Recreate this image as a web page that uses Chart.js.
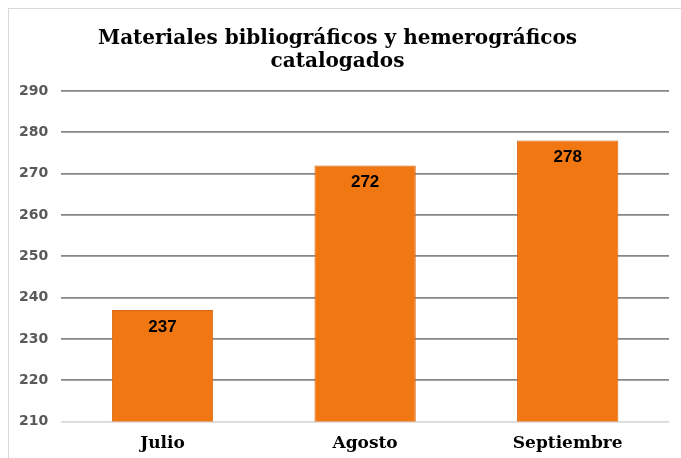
<!DOCTYPE html>
<html>
<head>
<meta charset="utf-8">
<script src="https://cdn.jsdelivr.net/npm/chart.js@4"></script>
<style>
  body { margin: 0; background: #fff; }
  #wrap { position: relative; width: 681px; height: 458px; }
</style>
</head>
<body>
<div id="wrap"><canvas id="barchart" width="681" height="458"></canvas></div>
<script>
const months = ["Julio", "Agosto", "Septiembre"];
const catalogados = [237, 272, 278];
const yTicks = [210, 220, 230, 240, 250, 260, 270, 280, 290];
const titleLines = ["Materiales bibliográficos y hemerográficos", "catalogados"];

const ctx = document.getElementById("barchart").getContext("2d");

// frame around the whole chart
const framePlugin = {
  id: "frame",
  beforeDraw(chart) {
    const c = chart.ctx;
    c.save();
    c.strokeStyle = "#d9d9d9";
    c.lineWidth = 1;
    c.strokeRect(8.5, 8.5, 690, 460);
    c.restore();
  }
};

// value labels inside top of each bar
const valueLabels = {
  id: "valueLabels",
  afterDatasetsDraw(chart) {
    const c = chart.ctx;
    const meta = chart.getDatasetMeta(0);
    c.save();
    c.font = "bold 17px 'Liberation Sans', Arial, sans-serif";
    c.fillStyle = "#000";
    c.textAlign = "center";
    c.textBaseline = "middle";
    meta.data.forEach((bar, i) => {
      c.fillText(catalogados[i], bar.x, bar.y + 17);
    });
    c.restore();
  }
};

new Chart(ctx, {
  type: "bar",
  data: {
    labels: months,
    datasets: [
      {
        label: "Catalogados",
        data: catalogados,
        backgroundColor: "#f07712",
        borderColor: "#d8650c",
        borderWidth: 1,
        barPercentage: 0.5,
        categoryPercentage: 1,
      },
    ],
  },
  options: {
    responsive: false,
    animation: false,
    layout: { padding: { left: 6, right: 12, top: 0, bottom: 0 } },
    plugins: {
      legend: { display: false },
      tooltip: { enabled: false },
      title: {
        display: true,
        text: titleLines,
        color: "#000",
        font: { family: "'DejaVu Serif', serif", size: 20, weight: "bold", lineHeight: 1.15 },
        padding: { top: 27, bottom: 18 },
      },
    },
    scales: {
      x: {
        grid: { display: false },
        border: { display: false },
        ticks: {
          color: "#000",
          font: { family: "'DejaVu Serif', serif", size: 17, weight: "bold" },
          padding: 4,
        },
      },
      y: {
        min: 210,
        max: 290,
        afterBuildTicks(axis) {
          axis.ticks = yTicks.map((v) => ({ value: v }));
        },
        border: { display: false },
        grid: {
          color: (c) => (c.tick && c.tick.value === 210 ? "#d9d9d9" : "#868686"),
          lineWidth: 1.8,
          drawTicks: false,
        },
        ticks: {
          color: "#595959",
          font: { family: "'DejaVu Sans', sans-serif", size: 14, weight: "bold" },
          padding: 13,
        },
      },
    },
  },
  plugins: [framePlugin, valueLabels],
});
</script>
</body>
</html>
